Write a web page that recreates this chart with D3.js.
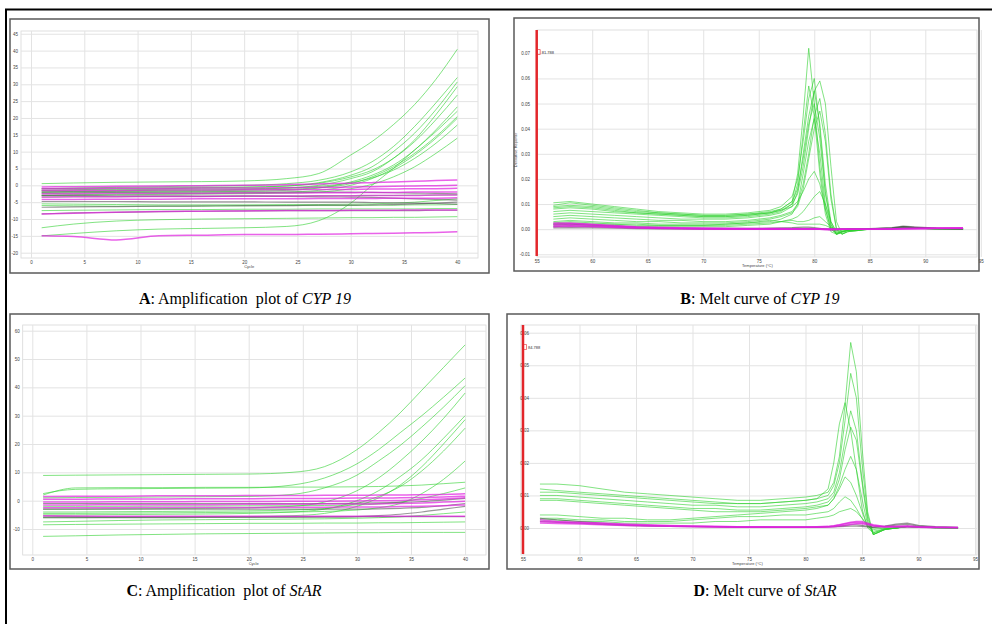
<!DOCTYPE html>
<html>
<head>
<meta charset="utf-8">
<script src="https://cdn.jsdelivr.net/npm/d3@7"></script>
<style>
  body { margin: 0; background: #fff; }
  svg { display: block; font-family: "Liberation Sans", Arial, sans-serif; }
  .cap { font-family: "Liberation Serif", "Times New Roman", serif; font-size: 16px; white-space: pre; fill: #000; }
  .tick text { font-size: 4.5px; fill: #444; }
  .tick line { stroke: #e3e3e3; }
  .domain { display: none; }
</style>
</head>
<body>
<svg id="fig" width="992" height="624"></svg>
<script>
// ---- amplification plots: x = cycle, y = delta Rn
const ampCycles = [1, 4, 8, 12, 16, 20, 24, 27, 30, 32, 34, 36, 38, 40]

const cypAmpGreen = [
  [0.5, 0.7, 0.9, 1.0, 1.1, 1.3, 2.0, 3.5, 9, 13, 18, 24, 31.5, 40.4],
  [-1, -0.8, -0.6, -0.4, -0.2, 0, 0.5, 1.5, 4, 7, 11.5, 17.5, 24.5, 32],
  [-1.5, -1.3, -1.1, -1, -0.8, -0.6, -0.2, 0.8, 3, 5.5, 10, 15.5, 22.5, 30.7],
  [-2, -1.8, -1.6, -1.5, -1.4, -1.2, -0.8, 0, 2, 4, 8, 13.5, 21, 29.3],
  [-1, -0.9, -0.8, -0.7, -0.6, -0.5, -0.2, 0.6, 2.5, 4.5, 8, 13, 19.5, 26.8],
  [-2.5, -2.3, -2.1, -2, -1.9, -1.8, -1.5, -0.8, 1, 3, 6, 10.5, 16.5, 23.3],
  [-2, -1.9, -1.8, -1.7, -1.6, -1.5, -1.2, -0.7, 0.5, 2.5, 5.5, 9.5, 14.5, 20.4],
  [-3, -2.8, -2.6, -2.5, -2.4, -2.3, -2, -1.5, 0, 2, 5, 9, 14, 19.9],
  [-1.5, -1.4, -1.3, -1.2, -1.1, -1, -0.8, -0.3, 0.8, 2.2, 4.5, 8, 12.5, 17.9],
  [-3, -2.9, -2.8, -2.7, -2.6, -2.5, -2.3, -2, -1, 0.3, 2.5, 5.5, 9.5, 14],
  [-15, -14.3, -13.5, -13, -12.8, -12.6, -12.2, -10.5, -5.3, 0, 5, 10.5, 16, 22],
  [-12.6, -11.5, -10.6, -10.2, -10, -9.9, -9.8, -9.7, -9.6, -9.6, -9.5, -9.5, -9.4, -9.3],
  [-5.5, -5.6, -5.7, -5.8, -5.8, -5.8, -5.7, -5.7, -5.6, -5.5, -5.3, -5, -4.5, -4],
  [-6, -6.1, -6.2, -6.2, -6.2, -6.1, -6, -6, -6, -5.9, -5.9, -5.8, -5.8, -5.7],
  [-7.5, -7.4, -7.3, -7.2, -7.2, -7.1, -7.1, -7, -7, -7, -7, -7, -6.9, -6.9],
  [-3.5, -3.4, -3.4, -3.3, -3.3, -3.2, -3.2, -3.1, -3.1, -3, -3, -2.9, -2.9, -2.8]
]
const cypAmpMagenta = [
  [-0.5, -0.4, -0.3, -0.2, -0.1, 0, 0.2, 0.4, 0.6, 0.8, 1, 1.2, 1.4, 1.6],
  [-1, -1, -0.9, -0.9, -0.8, -0.8, -0.7, -0.6, -0.5, -0.4, -0.3, -0.2, -0.1, 0],
  [-1.5, -1.5, -1.5, -1.4, -1.4, -1.3, -1.3, -1.2, -1.2, -1.1, -1.1, -1, -1, -0.9],
  [-2.5, -2.5, -2.4, -2.4, -2.4, -2.3, -2.3, -2.2, -2.2, -2.1, -2.1, -2, -2, -2],
  [-3.5, -3.4, -3.4, -3.3, -3.3, -3.2, -3.2, -3.1, -3.1, -3, -3, -3, -2.9, -2.9],
  [-4.2, -4.2, -4.1, -4.1, -4, -4, -4, -3.9, -3.9, -3.9, -3.8, -3.8, -3.8, -3.7],
  [-8.5, -8.3, -8, -7.8, -7.7, -7.6, -7.5, -7.5, -7.4, -7.4, -7.4, -7.3, -7.3, -7.3],
  [-15, -15.2, -16.2, -15, -14.8, -14.6, -14.6, -14.5, -14.4, -14.3, -14.2, -14.1, -14, -13.8]
]
const cypAmpGray = [
  [-2, -2, -2, -2, -2, -2, -2, -2, -2, -2.1, -2.2, -2.3, -2.4, -2.5],
  [-3, -3, -3.1, -3.1, -3.2, -3.2, -3.3, -3.4, -3.5, -3.6, -3.8, -4, -4.2, -4.4],
  [-4.8, -4.8, -4.8, -4.9, -4.9, -4.9, -5, -5, -5, -5.1, -5.2, -5.3, -5.4, -5.6],
  [-6.5, -6.4, -6.3, -6.2, -6.1, -6, -6, -5.9, -5.9, -5.8, -5.7, -5.5, -5.3, -5],
  [-8.5, -8.2, -8, -7.8, -7.7, -7.6, -7.5, -7.5, -7.5, -7.5, -7.5, -7.5, -7.4, -7.4]
]

const starAmpGreen = [
  [8.9, 9, 9.1, 9.2, 9.3, 9.4, 10, 12, 18, 24, 31, 39, 47, 55],
  [2.5, 4, 4.2, 4.3, 4.4, 4.5, 5.5, 8, 13, 18, 24, 30, 36.5, 43.3],
  [1, 1.1, 1.2, 1.3, 1.4, 1.5, 2.2, 4.5, 9, 14, 19.5, 26, 33, 40.6],
  [-3, -3, -2.9, -2.8, -2.7, -2.5, -2, -0.5, 3.5, 8, 14, 21, 29, 38],
  [-5, -5, -4.9, -4.8, -4.7, -4.5, -4, -3, 0, 3.5, 8.5, 14.5, 22, 30],
  [-6, -6, -5.9, -5.8, -5.7, -5.6, -5.3, -4.5, -2, 1, 5.5, 12, 20, 28.6],
  [-4, -4, -3.9, -3.8, -3.7, -3.6, -3.3, -2.8, -1, 1.5, 5, 10.5, 17.5, 25.6],
  [-4.5, -4.5, -4.4, -4.3, -4.2, -4.1, -4, -3.8, -3.3, -2.5, -1, 2.5, 7.5, 14],
  [2, 4.5, 4.6, 4.6, 4.7, 4.7, 4.8, 4.8, 4.9, 5, 5.2, 5.5, 6, 6.5],
  [-7.5, -7.3, -7, -6.8, -6.7, -6.6, -6.5, -6.4, -6.2, -6, -5.7, -5.2, -4.6, -4],
  [-8.5, -8.4, -8.3, -8.2, -8.1, -8, -8, -7.9, -7.9, -7.8, -7.8, -7.7, -7.6, -7.5],
  [-12.6, -12.4, -12.1, -11.9, -11.7, -11.6, -11.5, -11.4, -11.3, -11.3, -11.2, -11.2, -11.2, -11.2],
  [-2, -2, -2, -1.9, -1.9, -1.8, -1.8, -1.7, -1.5, -1.2, -0.5, 0.8, 2.5, 4.5]
]
const starAmpMagenta = [
  [1.5, 1.6, 1.6, 1.7, 1.7, 1.8, 1.8, 1.9, 1.9, 2, 2, 2.1, 2.2, 2.4],
  [0.5, 0.5, 0.6, 0.6, 0.7, 0.7, 0.8, 0.8, 0.9, 0.9, 1, 1.1, 1.3, 1.6],
  [-0.5, -0.5, -0.4, -0.4, -0.3, -0.3, -0.2, -0.2, -0.1, 0, 0.1, 0.3, 0.6, 1],
  [-1.5, -1.5, -1.4, -1.4, -1.4, -1.3, -1.3, -1.2, -1.2, -1.1, -1, -0.8, -0.5, -0.2],
  [-2.5, -2.5, -2.5, -2.4, -2.4, -2.4, -2.3, -2.3, -2.2, -2.2, -2.1, -2, -1.8, -1.5],
  [-5.3, -5.4, -5.5, -5.5, -5.5, -5.5, -5.5, -5.5, -5.5, -5.5, -5.5, -5.5, -5.5, -5.5]
]
const starAmpGray = [
  [-1, -1, -1, -1, -1, -1, -1, -1, -0.9, -0.8, -0.6, -0.3, 0.2, 0.8],
  [-3, -3, -3, -3, -3, -3, -3, -3, -3, -2.9, -2.7, -2.4, -1.8, -1],
  [-5.5, -5.6, -5.7, -5.7, -5.7, -5.7, -5.6, -5.6, -5.6, -5.6, -5.6, -5.6, -5.6, -5.6],
  [-6, -6, -6, -6, -5.9, -5.9, -5.9, -5.8, -5.6, -5.3, -4.8, -4, -3, -2]
]

// ---- melt curves: x = temperature (C), y = derivative reporter in units of 0.001
const cypMeltTemps = [56.5, 58, 60, 62, 64, 66, 68, 70, 72, 74, 76, 77, 78, 78.5, 79, 79.5, 80, 80.5, 81, 81.5, 82, 82.5, 83, 85, 87, 88, 89, 91, 93.4]
const cypMeltGreen = [
  [9.5, 10.5, 9.5, 8.5, 7.5, 6.5, 6, 5.5, 5.5, 6, 7, 8, 11, 22, 45, 72, 50, 25, 8, 0, -2, -1, -0.5, 0, 0.3, 0.8, 0.5, 0.2, 0],
  [10.5, 11, 10, 9, 8, 7, 6.5, 6, 6, 6.5, 7.5, 9, 13, 20, 35, 52, 60, 40, 15, 2, -2, -1.5, -0.5, 0, 0.3, 0.8, 0.6, 0.2, 0],
  [8.5, 9, 8.5, 7.5, 6.5, 6, 5.5, 5, 5, 5.5, 6.5, 7.5, 10, 14, 25, 40, 55, 59, 50, 25, 3, -2, -1, 0, 0.2, 1, 0.6, 0.2, 0],
  [7, 7.5, 7, 6.5, 6, 5.5, 5, 4.5, 4.5, 5, 6, 7, 10, 18, 38, 57, 45, 22, 6, -1, -2, -1, -0.5, 0, 0.3, 0.7, 0.4, 0.1, 0],
  [6, 6.5, 6, 5.5, 5, 4.5, 4, 4, 4, 4.5, 5.5, 6.5, 9, 15, 30, 45, 55, 42, 18, 3, -1.5, -1, -0.5, 0, 0.2, 0.8, 0.5, 0.2, 0],
  [5, 5.5, 5, 4.5, 4, 3.5, 3.5, 3, 3, 3.5, 4.5, 5.5, 7, 10, 18, 30, 45, 52, 38, 14, 0, -2, -1, 0, 0.2, 0.9, 0.5, 0.2, 0],
  [8, 8.5, 8, 7, 6.5, 6, 5.5, 5, 5, 5.5, 6.5, 8, 11, 16, 28, 42, 50, 36, 14, 2, -2, -1, -0.5, 0, 0.3, 0.8, 0.5, 0.2, 0],
  [4, 4.5, 4, 3.5, 3, 3, 2.5, 2.5, 2.5, 3, 4, 5, 6.5, 9, 16, 28, 40, 47, 35, 12, 0, -2, -1, 0, 0.2, 1, 0.5, 0.1, 0],
  [3, 3.5, 3, 2.5, 2.5, 2, 2, 2, 2, 2.5, 3, 4, 6, 10, 22, 35, 44, 30, 10, 1, -2, -1, -0.3, 0, 0.2, 0.8, 0.4, 0.1, 0],
  [9, 9.5, 9, 8, 7, 6.5, 6, 5.5, 5.5, 6, 6.5, 7.5, 9, 11, 15, 20, 23, 18, 8, 0, -1.5, -1, -0.5, 0, 0.2, 0.6, 0.4, 0.1, 0],
  [2, 2.5, 2, 2, 1.5, 1.5, 1.5, 1.5, 1.5, 2, 2.5, 3, 4, 5, 7, 10, 13, 15, 10, 3, -1, -0.5, 0, 0, 0.2, 0.7, 0.4, 0.1, 0],
  [1.5, 2, 1.5, 1.5, 1, 1, 1, 1, 1, 1.5, 2, 3, 3.5, 3, 3, 3.5, 4.5, 5, 3, 1, -0.5, -0.3, 0, 0, 0.2, 0.6, 0.3, 0.1, 0],
  [2.5, 3, 2.5, 2, 2, 1.5, 1.5, 1.5, 2, 2.5, 3.5, 3, 2.5, 2, 2, 2, 2, 2, 1.5, 0.5, 0, 0, 0, 0, 0.2, 0.8, 0.4, 0.1, 0]
]
const cypMeltMagenta = [
  [2.5, 2.5, 2, 1.5, 1, 0.8, 0.6, 0.5, 0.4, 0.3, 0.3, 0.3, 0.2, 0.2, 0.2, 0.2, 0.2, 0.1, 0, 0, 0, 0, 0, 0, 0.2, 0.3, 0.4, 0.5, 0.6],
  [2, 2.2, 1.8, 1.2, 0.8, 0.6, 0.4, 0.3, 0.2, 0.2, 0.1, 0.1, 0.1, 0.1, 0.1, 0.1, 0, 0, 0, 0, 0, 0, 0, 0, 0.1, 0.2, 0.3, 0.4, 0.5],
  [1.5, 1.6, 1.3, 1, 0.6, 0.5, 0.3, 0.2, 0.1, 0, 0, 0, 0, 0, 0, 0, 0, 0, -0.2, -0.3, -0.2, 0, 0, 0, 0, 0.2, 0.2, 0.3, 0.4],
  [1, 1.2, 1, 0.7, 0.5, 0.3, 0.2, 0.1, 0, 0, 0, 0, 0, 0, 0, 0, 0, 0, 0, 0, 0, 0, 0, 0, 0.1, 0.3, 0.2, 0.3, 0.3]
]
const cypMeltGray = [
  [2, 2, 1.6, 1.2, 0.8, 0.5, 0.4, 0.3, 0.3, 0.3, 0.4, 0.5, 0.6, 0.7, 0.8, 0.8, 0.6, 0.3, 0, -0.3, -0.2, 0, 0, 0.2, 0.6, 1.2, 0.9, 0.4, 0.2],
  [1, 1.3, 1, 0.8, 0.5, 0.3, 0.2, 0.1, 0.1, 0.1, 0.2, 0.2, 0.3, 0.3, 0.3, 0.3, 0.2, 0.1, 0, 0, 0, 0, 0, 0.1, 0.5, 1, 0.7, 0.3, 0.1],
  [0.5, 0.6, 0.5, 0.4, 0.2, 0.1, 0.1, 0, 0, 0, 0, 0, 0, 0, 0, 0, 0, 0, 0, 0, 0, 0, 0, 0.1, 0.4, 0.8, 0.6, 0.3, 0.1]
]

const starMeltTemps = [56.5, 58, 60, 62, 64, 66, 68, 70, 72, 74, 76, 78, 80, 81, 82, 82.5, 83, 83.5, 84, 84.5, 85, 85.5, 86, 87, 88, 89, 90, 91.5, 93.5]
const starMeltGreen = [
  [13.5, 13.5, 13, 12, 11, 10.5, 10, 9.5, 9, 8.5, 8.5, 9, 9.5, 10, 11, 14, 22, 38, 57, 48, 25, 5, -2, -0.5, 0, 0.5, 0.3, 0.1, 0],
  [12, 11.5, 11, 10.5, 10, 9.5, 9, 8.5, 8, 7.5, 7.5, 8, 8.5, 9, 10, 13, 20, 33, 47.5, 40, 20, 4, -2, -0.5, 0, 0.5, 0.3, 0.1, 0],
  [11, 11, 10.5, 10, 9.5, 9, 8.5, 8, 7.5, 7.5, 7.5, 8, 8.5, 9, 12, 20, 32, 38.5, 30, 18, 6, 0, -1.5, -0.3, 0, 0.5, 0.3, 0.1, 0],
  [10, 10, 9.5, 9, 8.5, 8, 7.5, 7, 7, 6.5, 6.5, 7, 7.5, 8, 9, 11, 17, 27, 36, 30, 15, 3, -2, -0.5, 0, 0.5, 0.3, 0.1, 0],
  [9, 9, 8.5, 8, 7.5, 7, 6.5, 6, 6, 5.5, 5.5, 6, 6.5, 7, 8, 10, 15, 24, 31, 27, 14, 2, -2, -0.5, 0, 0.5, 0.3, 0.1, 0],
  [8.5, 8.5, 8, 7.5, 7, 6.5, 6, 5.5, 5, 5, 5, 5.5, 6, 6.5, 7, 9, 13, 18, 22, 18, 9, 1, -1.5, -0.3, 0, 0.4, 0.3, 0.1, 0],
  [4, 4, 3.5, 3, 3, 2.5, 2.5, 3, 3.5, 4, 4.5, 5, 5.5, 6, 7, 9, 12, 15.7, 14, 10, 5, 0.5, -1, -0.3, 0, 0.4, 0.2, 0.1, 0],
  [3, 3, 2.5, 2.5, 2, 2, 2, 2.5, 3, 3.5, 3.5, 4, 4, 4.5, 5, 6, 8, 9.6, 8.5, 6, 3, 0.5, -0.5, 0, 0, 0.4, 0.2, 0.1, 0],
  [2.5, 2.5, 2, 2, 1.5, 1.5, 1.5, 1.5, 2, 2, 2.5, 2.5, 2.5, 3, 3.5, 4, 5, 5.5, 6, 5, 3, 1, 0, 0, 0, 0.3, 0.2, 0.1, 0]
]
const starMeltMagenta = [
  [2.5, 2, 1.8, 1.5, 1.2, 1, 0.8, 0.6, 0.5, 0.4, 0.4, 0.3, 0.3, 0.4, 0.5, 0.7, 1, 1.4, 1.8, 2, 2, 1.5, 1, 0.5, 0.5, 0.6, 0.4, 0.2, 0.2],
  [2, 1.8, 1.5, 1.2, 1, 0.8, 0.6, 0.5, 0.4, 0.3, 0.3, 0.2, 0.2, 0.3, 0.4, 0.6, 0.9, 1.2, 1.5, 1.7, 1.6, 1.2, 0.8, 0.4, 0.4, 0.5, 0.3, 0.2, 0.1],
  [1.5, 1.4, 1.2, 1, 0.8, 0.6, 0.5, 0.4, 0.3, 0.2, 0.2, 0.2, 0.2, 0.2, 0.3, 0.4, 0.6, 0.8, 1.1, 1.3, 1.3, 1, 0.6, 0.3, 0.3, 0.4, 0.2, 0.1, 0.1]
]
const starMeltGray = [
  [3, 2.5, 2, 1.5, 1, 0.8, 0.6, 0.5, 0.4, 0.3, 0.3, 0.3, 0.3, 0.3, 0.4, 0.5, 0.6, 0.8, 1, 1, 0.8, 0.5, 0.3, 0.6, 1.2, 1.5, 0.8, 0.4, 0.2],
  [2, 1.8, 1.5, 1.1, 0.8, 0.6, 0.5, 0.4, 0.3, 0.2, 0.2, 0.2, 0.2, 0.2, 0.3, 0.3, 0.4, 0.5, 0.6, 0.6, 0.5, 0.3, 0.2, 0.4, 0.9, 1.1, 0.6, 0.3, 0.1]
]

// tick values
const ampXTicks = d3.range(0, 41, 5)
const cypAmpYTicks = d3.range(-20, 46, 5)
const starAmpYTicks = d3.range(-10, 61, 10)
const meltXTicks = d3.range(55, 96, 5)
const cypMeltYTicks = d3.range(-10, 71, 10)
const starMeltYTicks = d3.range(0, 61, 10)

const captions = [
  {bold: "A", text: ": Amplification  plot of ", ital: "CYP 19", x: 245, y: 304},
  {bold: "B", text: ": Melt curve of ", ital: "CYP 19", x: 760, y: 304},
  {bold: "C", text: ": Amplification  plot of ", ital: "StAR", x: 224, y: 596},
  {bold: "D", text: ": Melt curve of ", ital: "StAR", x: 765, y: 596}
]

const svg = d3.select("#fig")

// outer frame
svg.append("path")
  .attr("d", "M6,624 V9.5 H992")
  .attr("fill", "none")
  .attr("stroke", "#000")
  .attr("stroke-width", 2)

function panel(p) {
  const g = svg.append("g")
  const [bx, by, bw, bh] = p.box
  const [px0, px1, py0, py1] = p.plot

  g.append("rect")
    .attr("x", bx).attr("y", by).attr("width", bw).attr("height", bh)
    .attr("fill", "#fff").attr("stroke", "#5a5a5a").attr("stroke-width", 1.5)

  const x = d3.scaleLinear().domain(p.xd).range(p.xr)
  const y = d3.scaleLinear().domain(p.yd).range(p.yr)

  // plot frame
  g.append("rect")
    .attr("x", px0).attr("y", py0).attr("width", px1 - px0).attr("height", py1 - py0)
    .attr("fill", "none").attr("stroke", "#d8d8d8").attr("stroke-width", 0.8)

  // y axis with grid
  const gy = g.append("g")
    .attr("transform", "translate(" + px0 + ",0)")
    .call(d3.axisLeft(y).tickValues(p.yt).tickSize(-(px1 - px0)).tickPadding(3).tickFormat(p.yf))
  gy.selectAll("text").attr("x", p.ylabDx)

  // x axis with grid
  const gx = g.append("g")
    .attr("transform", "translate(0," + py1 + ")")
    .call(d3.axisBottom(x).tickValues(p.xt).tickSize(-(py1 - py0)).tickPadding(3))
  gx.selectAll(".tick line").attr("y2", -(py1 - py0))

  g.append("text")
    .attr("x", x(p.xlab[1])).attr("y", py1 + 10)
    .attr("font-size", 4).attr("fill", "#444")
    .text(p.xlab[0])

  if (p.ylab) {
    g.append("text")
      .attr("transform", "translate(" + p.ylab[1] + "," + p.ylab[2] + ") rotate(-90)")
      .attr("text-anchor", "middle")
      .attr("font-size", 4).attr("fill", "#444")
      .text(p.ylab[0])
  }

  g.append("clipPath").attr("id", p.id)
    .append("rect").attr("x", px0).attr("y", py0).attr("width", px1 - px0).attr("height", py1 - py0)

  const line = d3.line()
    .x((d, i) => x(p.xs[i]))
    .y(d => y(d))
    .curve(p.curve)

  const lines = g.append("g").attr("clip-path", "url(#" + p.id + ")").attr("fill", "none")
  lines.selectAll(null).data(p.green).enter().append("path")
    .attr("d", line).attr("stroke", "#2fd02f").attr("stroke-width", 1).attr("stroke-opacity", 0.6)
  lines.selectAll(null).data(p.gray).enter().append("path")
    .attr("d", line).attr("stroke", "#555").attr("stroke-width", 1.2).attr("stroke-opacity", 0.6)
  lines.selectAll(null).data(p.magenta).enter().append("path")
    .attr("d", line).attr("stroke", "#e020e0").attr("stroke-width", 1.5).attr("stroke-opacity", 0.7)

  // melt marker line
  if (p.marker) {
    g.append("line")
      .attr("x1", x(55)).attr("x2", x(55)).attr("y1", py0).attr("y2", py1 - 1)
      .attr("stroke", "#e3262b").attr("stroke-width", 2.5)
    g.append("path")
      .attr("d", "M" + (x(55) + 1) + "," + (p.marker[1] - 2.5) + " h2.5 v5 h-2.5")
      .attr("fill", "none").attr("stroke", "#e3262b").attr("stroke-width", 0.6)
    g.append("text")
      .attr("x", x(55) + 5).attr("y", p.marker[1] + 1.5)
      .attr("font-size", 4).attr("fill", "#333")
      .text(p.marker[0])
  }
}

panel({
  id: "clipA", box: [10, 19, 479, 254], plot: [21, 478, 31, 258],
  xd: [0, 40], xr: [31, 457.3], yd: [-20, 40], yr: [252.7, 50.6],
  xt: ampXTicks, yt: cypAmpYTicks, yf: d => d, ylabDx: -3,
  xlab: ["Cycle", 20], xs: ampCycles, curve: d3.curveMonotoneX,
  green: cypAmpGreen, magenta: cypAmpMagenta, gray: cypAmpGray
})

panel({
  id: "clipB", box: [514, 18, 465, 253], plot: [537, 977, 30, 257],
  xd: [55, 90], xr: [536.7, 925.3], yd: [-10, 70], yr: [254.3, 53.3],
  xt: meltXTicks, yt: cypMeltYTicks, yf: d => (d / 1000).toFixed(2), ylabDx: -7,
  xlab: ["Temperature (\u00b0C)", 73.5], ylab: ["Derivative Reporter", 517, 150],
  xs: cypMeltTemps, curve: d3.curveLinear, marker: ["81.788", 52],
  green: cypMeltGreen, magenta: cypMeltMagenta, gray: cypMeltGray
})

panel({
  id: "clipC", box: [10, 314, 479, 255], plot: [22.7, 486, 325, 555],
  xd: [0, 40], xr: [32.3, 465.1], yd: [-10, 60], yr: [529, 330.7],
  xt: ampXTicks, yt: starAmpYTicks, yf: d => d, ylabDx: -3,
  xlab: ["Cycle", 20], xs: ampCycles, curve: d3.curveMonotoneX,
  green: starAmpGreen, magenta: starAmpMagenta, gray: starAmpGray
})

panel({
  id: "clipD", box: [507, 314, 472, 255], plot: [521, 977, 325, 555],
  xd: [55, 95], xr: [523, 975], yd: [0, 60], yr: [528, 332.7],
  xt: meltXTicks, yt: starMeltYTicks, yf: d => (d / 1000).toFixed(2), ylabDx: 8,
  xlab: ["Temperature (\u00b0C)", 73.5],
  xs: starMeltTemps, curve: d3.curveLinear, marker: ["84.788", 347],
  green: starMeltGreen, magenta: starMeltMagenta, gray: starMeltGray
})

// captions
captions.forEach(c => {
  const t = svg.append("text").attr("class", "cap")
    .attr("x", c.x).attr("y", c.y).attr("text-anchor", "middle")
  t.append("tspan").attr("font-weight", "bold").text(c.bold)
  t.append("tspan").text(c.text)
  t.append("tspan").attr("font-style", "italic").text(c.ital)
})
</script>
</body>
</html>
